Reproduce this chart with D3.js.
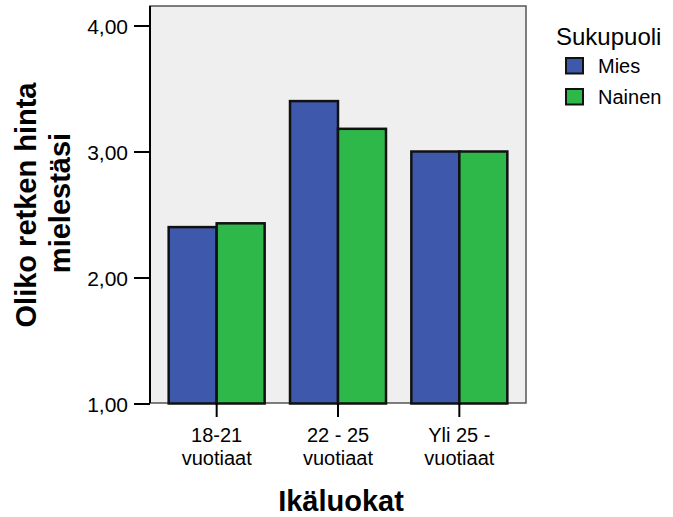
<!DOCTYPE html>
<html><head><meta charset="utf-8">
<script src="https://cdn.jsdelivr.net/npm/d3@7"></script>
<style>body{margin:0;background:#fff;}svg{display:block;font-family:"Liberation Sans",Arial,sans-serif;}</style>
</head><body><svg id="c" width="673" height="517"></svg>
<script>
const categories = [["18-21","vuotiaat"],["22 - 25","vuotiaat"],["Yli 25 -","vuotiaat"]];
const seriesNames = ["Mies","Nainen"];
const mies = [2.40, 3.40, 3.00];
const nainen = [2.43, 3.18, 3.00];
const yTicks = [1,2,3,4];
const colors = ["#3e58ac","#2fb84a"];
const yTitle = ["Oliko retken hinta","mielestäsi"];
const xTitle = "Ikäluokat";
const legendTitle = "Sukupuoli";

const svg = d3.select("#c");
const plot = {l:150, r:526, t:6, b:403};
const catKeys = categories.map(d=>d.join(" "));
const y = d3.scaleLinear().domain([1,4]).range([403.5,25.5]);
const x0 = d3.scaleBand().domain(catKeys).range([156,520]).padding(0);
const x1 = d3.scaleBand().domain(seriesNames).range([0,x0.bandwidth()]).paddingInner(0).paddingOuter(0.264);

svg.append("rect").attr("x",plot.l).attr("y",plot.t).attr("width",plot.r-plot.l).attr("height",plot.b-plot.t)
  .attr("fill","#efefef").attr("stroke","#555").attr("stroke-width",1.5);

const data = [mies, nainen];
catKeys.forEach((c,i)=>{
  seriesNames.forEach((s,j)=>{
    svg.append("rect")
      .attr("x", x0(c)+x1(s)).attr("y", y(data[j][i]))
      .attr("width", x1.bandwidth()).attr("height", y(1)-y(data[j][i]))
      .attr("fill", colors[j]).attr("stroke","#111").attr("stroke-width",2.5);
  });
});

// y axis
const yAxis = svg.append("g").attr("transform",`translate(${plot.l},0)`)
  .call(d3.axisLeft(y).tickValues(yTicks).tickSize(16).tickPadding(6).tickFormat(d=>d3.format(".2f")(d).replace(".",",")));
yAxis.select(".domain").attr("d",`M0,${plot.t}V${plot.b}`).attr("stroke","#000").attr("stroke-width",2);
yAxis.selectAll(".tick line").attr("stroke","#000").attr("stroke-width",2);
yAxis.selectAll(".tick text").attr("font-size",21).attr("fill","#000").attr("font-family","Liberation Sans, Arial, sans-serif").attr("dy","0.4em");

// x axis
const xAxis = svg.append("g").attr("transform",`translate(0,${plot.b})`)
  .call(d3.axisBottom(x0).tickSize(14).tickFormat(""));
xAxis.select(".domain").remove();
xAxis.selectAll(".tick line").attr("stroke","#000").attr("stroke-width",2);
xAxis.selectAll(".tick").each(function(d,i){
  const t = d3.select(this).append("text").attr("text-anchor","middle").attr("font-size",20).attr("fill","#000")
    .attr("font-family","Liberation Sans, Arial, sans-serif");
  t.append("tspan").attr("x",0).attr("y",39).text(categories[i][0]);
  t.append("tspan").attr("x",0).attr("y",62).text(categories[i][1]);
});

// titles
svg.append("text").attr("x",341).attr("y",511).attr("text-anchor","middle").attr("font-size",29).attr("font-weight","bold").text(xTitle);
svg.append("text").attr("transform","translate(35.5,205) rotate(-90)").attr("text-anchor","middle").attr("font-size",29).attr("font-weight","bold").text(yTitle[0]);
svg.append("text").attr("transform","translate(70,203) rotate(-90)").attr("text-anchor","middle").attr("font-size",29).attr("font-weight","bold").text(yTitle[1]);

// legend
svg.append("text").attr("x",556).attr("y",44.5).attr("font-size",24).text(legendTitle);
seriesNames.forEach((s,j)=>{
  svg.append("rect").attr("x",566).attr("y",58+j*31).attr("width",17).attr("height",15.5)
    .attr("fill",colors[j]).attr("stroke","#111").attr("stroke-width",2);
  svg.append("text").attr("x",598).attr("y",72.5+j*31).attr("font-size",20).text(s);
});
</script></body></html>
